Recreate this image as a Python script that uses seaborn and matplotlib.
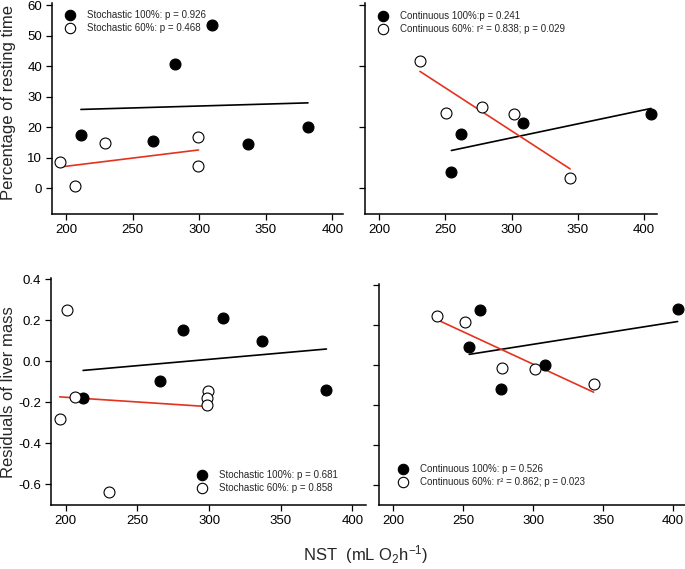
import matplotlib
matplotlib.use('Agg')
import matplotlib.pyplot as plt
import seaborn as sns
from matplotlib.lines import Line2D

sns.set_style('ticks')
plt.rcParams['font.family'] = ['Liberation Sans', 'DejaVu Sans']
plt.rcParams['mathtext.fontset'] = 'custom'
plt.rcParams['mathtext.rm'] = 'Liberation Sans'
plt.rcParams['mathtext.it'] = 'Liberation Sans:italic'
plt.rcParams['axes.unicode_minus'] = False

# ---------------- data ----------------
# Top-left: Stochastic, percentage of resting time
sto100_rest_x = [211.2, 265.5, 281.5, 309.5, 336.7, 381.7]
sto100_rest_y = [17.3, 15.4, 40.7, 53.3, 14.6, 19.9]
sto60_rest_x = [195.5, 207.0, 229.5, 299.0, 299.5]
sto60_rest_y = [8.7, 0.8, 14.9, 16.6, 7.1]

# Top-right: Continuous, percentage of resting time
con100_rest_x = [254.6, 261.9, 308.9, 405.3]
con100_rest_y = [5.3, 17.6, 21.4, 24.4]
con60_rest_x = [230.9, 250.6, 278.0, 301.6, 344.2]
con60_rest_y = [41.7, 24.6, 26.7, 24.2, 3.3]

# Bottom-left: Stochastic, residuals of liver mass
sto100_liver_x = [212.1, 265.8, 281.9, 309.8, 336.7, 381.9]
sto100_liver_y = [-0.179, -0.096, 0.153, 0.210, 0.097, -0.138]
sto60_liver_x = [195.8, 200.9, 206.7, 230.0, 299.5, 298.8, 298.4]
sto60_liver_y = [-0.281, 0.247, -0.174, -0.636, -0.146, -0.179, -0.211]

# Bottom-right: Continuous, residuals of liver mass
con100_liver_x = [261.9, 254.3, 308.3, 276.9, 403.1]
con100_liver_y = [0.276, 0.090, -0.002, -0.119, 0.278]
con60_liver_x = [231.2, 251.0, 277.6, 301.2, 343.1]
con60_liver_y = [0.246, 0.213, -0.013, -0.022, -0.094]

x_ticks = [200, 250, 300, 350, 400]
rest_ticks_left = [0, 10, 20, 30, 40, 50, 60]
rest_ticks_right = [0, 20, 40, 60]
liver_ticks = [-0.6, -0.4, -0.2, 0.0, 0.2, 0.4]

leg_tl = ['Stochastic 100%: p = 0.926', 'Stochastic 60%: p = 0.468']
leg_tr = ['Continuous 100%:p = 0.241', 'Continuous 60%: r\u00b2 = 0.838; p = 0.029']
leg_bl = ['Stochastic 100%: p = 0.681', 'Stochastic 60%: p = 0.858']
leg_br = ['Continuous 100%: p = 0.526', 'Continuous 60%: r\u00b2 = 0.862; p = 0.023']

RED = '#e5321f'
W, H = 685, 569
fig = plt.figure(figsize=(W / 100, H / 100), dpi=100)


def make_ax(l, t, r, b):
    return fig.add_axes([l / W, 1 - b / H, (r - l) / W, (b - t) / H])


def panel(ax, x1, y1, x2, y2, xlim, ylim, yticks, ylabels, fmt):
    sns.regplot(x=x1, y=y1, ci=None, scatter=False, ax=ax, truncate=True,
                color='black', line_kws={'lw': 1.2, 'zorder': 2})
    sns.regplot(x=x2, y=y2, ci=None, scatter=False, ax=ax, truncate=True,
                color=RED, line_kws={'lw': 1.2, 'zorder': 2})
    sns.scatterplot(x=x1, y=y1, ax=ax, s=62, color='black', edgecolor='black',
                    linewidth=0.8, zorder=3)
    sns.scatterplot(x=x2, y=y2, ax=ax, s=62, color='white', edgecolor='black',
                    linewidth=0.8, zorder=3)
    ax.set_xlim(*xlim)
    ax.set_ylim(*ylim)
    ax.set_xticks(x_ticks)
    ax.set_xticklabels([str(t) for t in x_ticks])
    ax.set_yticks(yticks)
    if ylabels:
        ax.set_yticklabels([fmt % t for t in yticks])
    else:
        ax.set_yticklabels([])
    ax.set_xlabel('')
    ax.set_ylabel('')
    for s in ['top', 'right']:
        ax.spines[s].set_visible(False)
    for s in ['left', 'bottom']:
        ax.spines[s].set_linewidth(1.1)
        ax.spines[s].set_color('black')
    ax.tick_params(direction='out', length=4, width=0.9, labelsize=9.5,
                   colors='black', pad=3)


def legend(ax, labels, mx, my):
    handles = [
        Line2D([], [], marker='o', ls='none', markersize=7.5,
               markerfacecolor='black', markeredgecolor='black', markeredgewidth=0.8),
        Line2D([], [], marker='o', ls='none', markersize=7.5,
               markerfacecolor='white', markeredgecolor='black', markeredgewidth=0.8),
    ]
    fs = 7
    fpx = fs * 100 / 72
    ax.legend(handles, labels, loc='upper left',
              bbox_to_anchor=((mx - 0.5 * fpx) / W, 1 - my / H),
              bbox_transform=fig.transFigure, frameon=False, fontsize=fs,
              handlelength=1.0, handletextpad=1.25, borderpad=0,
              borderaxespad=0, labelspacing=0.35)


ax_tl = make_ax(52, 3.5, 343, 214)
panel(ax_tl, sto100_rest_x, sto100_rest_y, sto60_rest_x, sto60_rest_y,
      (189.5, 408), (-8.5, 60.5), rest_ticks_left, True, '%g')
legend(ax_tl, leg_tl, 70, 10)

ax_tr = make_ax(365, 3.5, 657, 214)
panel(ax_tr, con100_rest_x, con100_rest_y, con60_rest_x, con60_rest_y,
      (189.4, 409.8), (-8.5, 60.5), rest_ticks_right, False, '%g')
legend(ax_tr, leg_tr, 383, 11)

ax_bl = make_ax(51, 278, 366, 505)
panel(ax_bl, sto100_liver_x, sto100_liver_y, sto60_liver_x, sto60_liver_y,
      (189.7, 409.5), (-0.7, 0.405), liver_ticks, True, '%.1f')
legend(ax_bl, leg_bl, 202, 470)

ax_br = make_ax(379, 284, 685, 505)
panel(ax_br, con100_liver_x, con100_liver_y, con60_liver_x, con60_liver_y,
      (189.8, 408.4), (-0.7, 0.405), liver_ticks, False, '%.1f')
legend(ax_br, leg_br, 403, 464)

fig.text(9 / W, 1 - 102 / H, 'Percentage of resting time', rotation=90,
         ha='center', va='center', fontsize=12)
fig.text(9 / W, 1 - 392 / H, 'Residuals of liver mass', rotation=90,
         ha='center', va='center', fontsize=12)
fig.text(366 / W, 1 - 555 / H, 'NST  (mL O$_2$h$^{-1}$)',
         ha='center', va='center', fontsize=12)

fig.savefig('out.png', dpi=100)
